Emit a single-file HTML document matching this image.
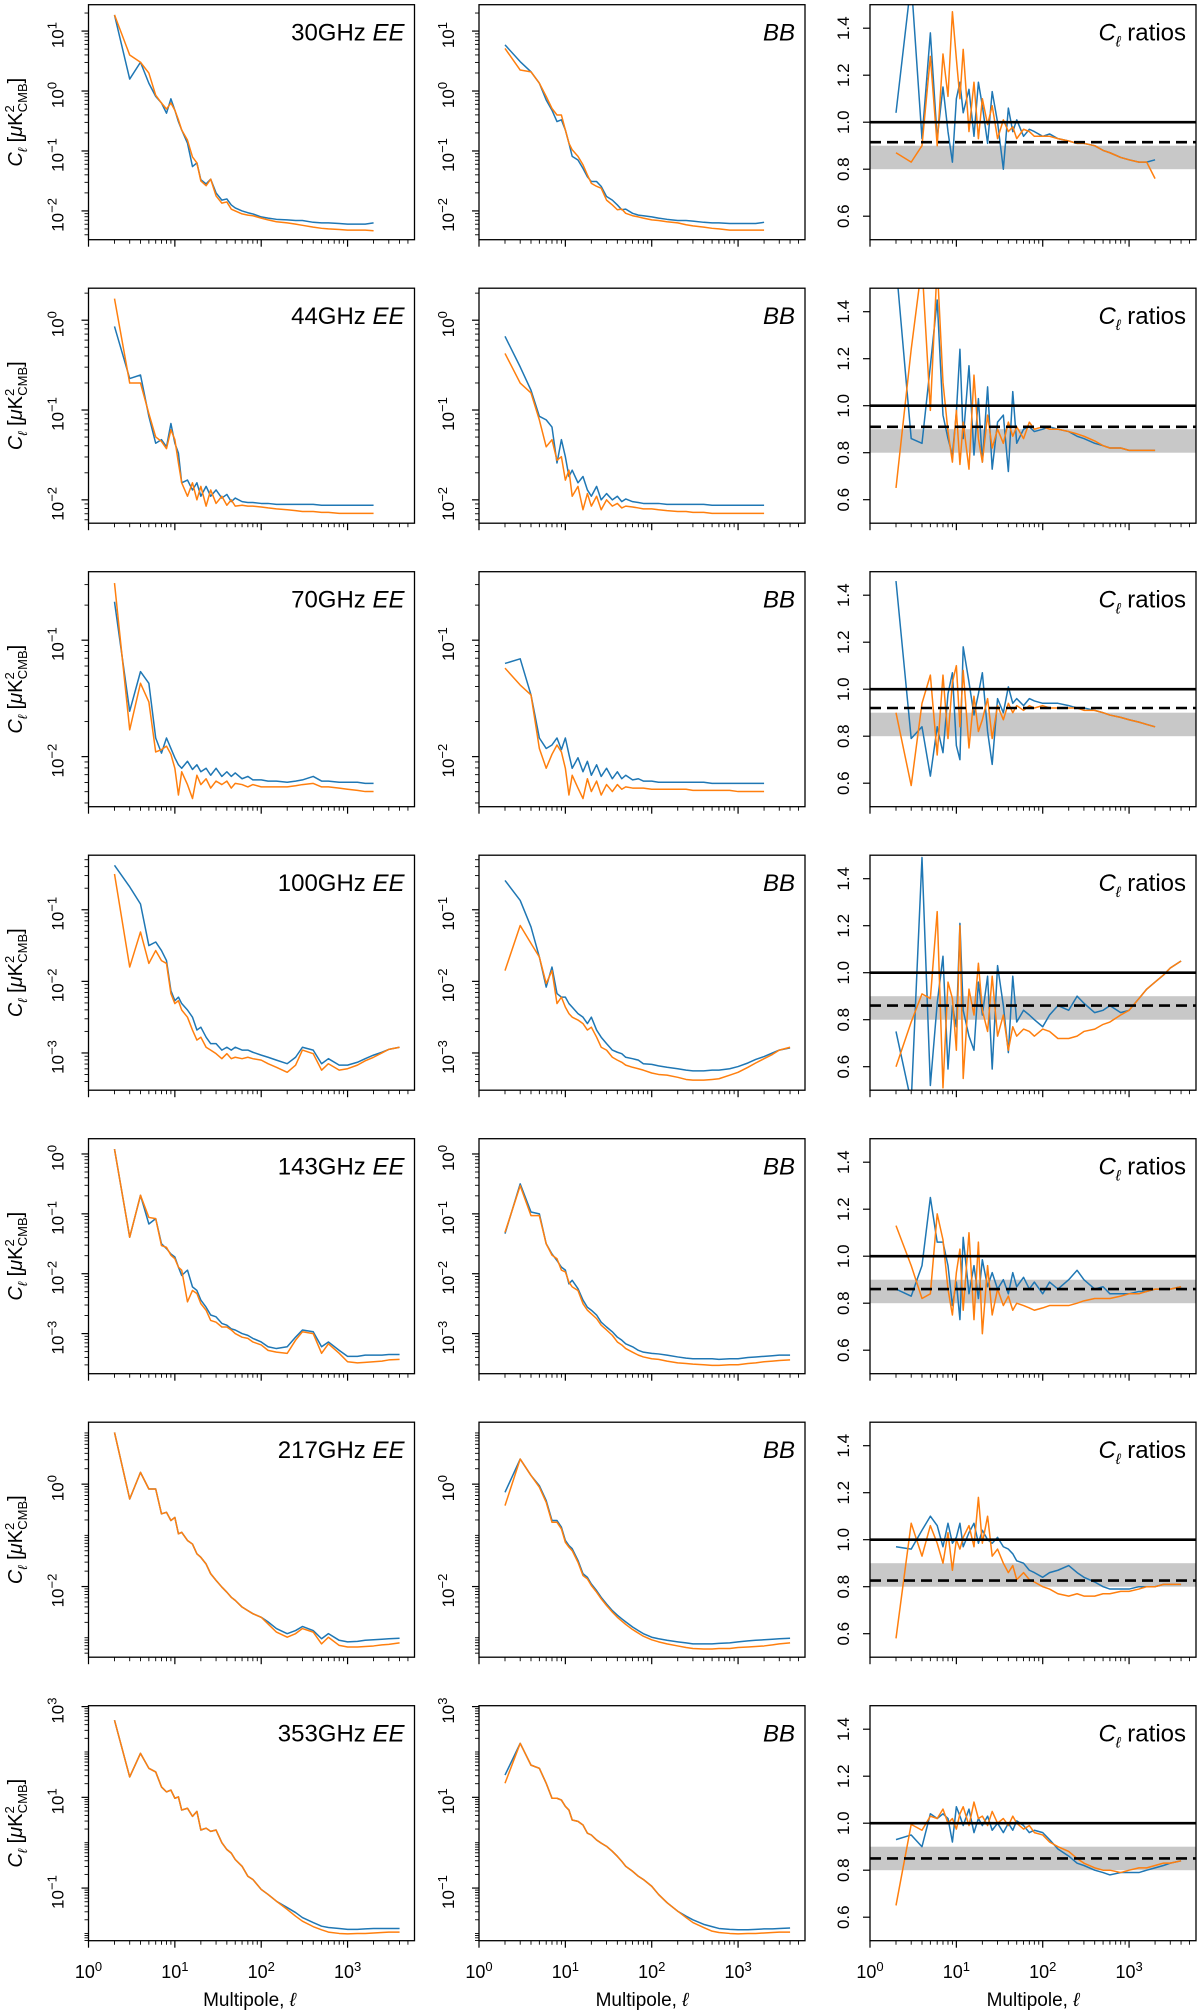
<!DOCTYPE html>
<html><head><meta charset="utf-8"><title>Planck Cl spectra</title>
<style>
html,body{margin:0;padding:0;background:#fff;}
svg{display:block;font-family:"Liberation Sans",sans-serif;}
</style></head>
<body>
<svg id="fig" xmlns="http://www.w3.org/2000/svg" width="1200" height="2015" viewBox="0 0 1200 2015"></svg>
<script>
const ell = [2,3,4,5,6,7,8,9,10,11,12,14,16,18,20,23,26,30,35,40,45,50,60,70,80,100,120,150,200,250,300,400,500,600,800,1000,1300,1600,2000,2500,3000,4000];
const freqLabels = ["30GHz","44GHz","70GHz","100GHz","143GHz","217GHz","353GHz"];
const meanRatio = [0.915,0.91,0.92,0.86,0.86,0.826,0.85];
const xTickLabels = ["0","1","2","3"];
const ratioTicks = [0.6,0.8,1.0,1.2,1.4];

// log10 C_ell values
const ee30Blue=[1.27,0.20,0.48,0.13,-0.09,-0.2,-0.37,-0.13,-0.32,-0.51,-0.65,-0.87,-1.26,-1.2,-1.48,-1.55,-1.47,-1.7,-1.82,-1.8,-1.9,-1.95,-2.0,-2.03,-2.05,-2.1,-2.12,-2.14,-2.15,-2.16,-2.16,-2.19,-2.2,-2.2,-2.21,-2.22,-2.22,-2.22,-2.2];
const ee30Orange=[1.27,0.6,0.48,0.3,-0.07,-0.2,-0.3,-0.2,-0.32,-0.48,-0.65,-0.82,-1.1,-1.2,-1.5,-1.58,-1.47,-1.75,-1.87,-1.85,-1.97,-2.0,-2.05,-2.07,-2.08,-2.12,-2.15,-2.18,-2.2,-2.22,-2.24,-2.27,-2.29,-2.3,-2.31,-2.32,-2.32,-2.32,-2.33];
const bb30Blue=[0.77,0.49,0.32,0.13,-0.15,-0.32,-0.51,-0.48,-0.65,-0.87,-1.09,-1.15,-1.29,-1.43,-1.51,-1.51,-1.59,-1.76,-1.82,-1.9,-1.98,-1.97,-2.04,-2.07,-2.08,-2.1,-2.12,-2.14,-2.16,-2.16,-2.17,-2.19,-2.2,-2.2,-2.21,-2.21,-2.21,-2.21,-2.19];
const bb30Orange=[0.71,0.35,0.32,0.13,-0.09,-0.29,-0.4,-0.4,-0.65,-0.87,-0.98,-1.09,-1.23,-1.4,-1.54,-1.59,-1.62,-1.82,-1.9,-1.98,-1.97,-2.04,-2.08,-2.1,-2.12,-2.15,-2.16,-2.18,-2.2,-2.23,-2.25,-2.27,-2.29,-2.3,-2.32,-2.32,-2.32,-2.32,-2.32];
const ratio30Blue=[1.04,1.6,0.93,1.38,0.93,1.15,0.96,0.83,1.1,1.17,1.04,1.14,0.94,1.17,1.07,0.91,1.13,1.0,0.8,1.06,0.96,1.01,0.94,0.97,0.96,0.94,0.95,0.93,0.92,0.91,0.91,0.9,0.88,0.87,0.85,0.84,0.83,0.83,0.84];
const ratio30Orange=[0.87,0.83,0.9,1.28,0.9,1.29,1.11,1.47,1.27,1.1,1.31,0.96,1.17,0.93,1.1,0.99,1.07,0.93,1.01,0.96,0.98,0.93,0.97,0.96,0.94,0.94,0.94,0.93,0.92,0.91,0.91,0.9,0.88,0.87,0.85,0.84,0.83,0.83,0.76];

const ee44Blue=[-0.07,-0.65,-0.61,-1.07,-1.37,-1.33,-1.41,-1.15,-1.37,-1.48,-1.81,-1.78,-1.89,-1.81,-1.96,-1.85,-1.96,-1.89,-1.98,-1.94,-2.02,-1.98,-2.02,-2.03,-2.03,-2.04,-2.04,-2.05,-2.05,-2.05,-2.05,-2.05,-2.06,-2.06,-2.06,-2.06,-2.06,-2.06,-2.06];
const ee44Orange=[0.24,-0.7,-0.7,-1.04,-1.3,-1.35,-1.43,-1.22,-1.33,-1.59,-1.81,-1.96,-1.81,-2.0,-1.85,-2.07,-1.89,-2.04,-1.96,-2.06,-2.0,-2.07,-2.06,-2.07,-2.07,-2.08,-2.09,-2.1,-2.11,-2.12,-2.13,-2.13,-2.14,-2.14,-2.15,-2.15,-2.15,-2.15,-2.15];
const bb44Blue=[-0.18,-0.52,-0.78,-1.07,-1.11,-1.19,-1.59,-1.33,-1.52,-1.74,-1.67,-1.81,-1.74,-1.89,-1.96,-1.85,-2.0,-1.93,-2.0,-1.96,-2.02,-1.99,-2.02,-2.03,-2.04,-2.04,-2.04,-2.05,-2.05,-2.05,-2.05,-2.05,-2.06,-2.06,-2.06,-2.06,-2.06,-2.06,-2.06];
const bb44Orange=[-0.37,-0.7,-0.81,-1.11,-1.41,-1.33,-1.56,-1.52,-1.78,-1.67,-1.96,-1.85,-2.11,-1.93,-2.07,-1.96,-2.11,-2.0,-2.07,-2.04,-2.09,-2.07,-2.08,-2.09,-2.1,-2.1,-2.11,-2.12,-2.13,-2.13,-2.14,-2.14,-2.15,-2.15,-2.15,-2.15,-2.15,-2.15,-2.15];
const ratio44Blue=[1.6,0.86,0.84,1.17,1.45,0.96,0.86,0.79,0.97,1.24,0.86,1.17,0.79,1.03,0.76,1.08,0.73,0.93,0.96,0.72,1.06,0.84,0.9,0.91,0.89,0.9,0.91,0.9,0.89,0.87,0.86,0.84,0.83,0.82,0.82,0.81,0.81,0.81,0.81];
const ratio44Orange=[0.65,1.24,1.6,0.98,1.6,1.1,0.89,0.76,0.98,0.75,0.93,0.73,1.13,0.86,0.76,0.96,0.82,0.9,0.84,0.93,0.87,0.91,0.86,0.93,0.9,0.91,0.9,0.9,0.89,0.88,0.87,0.85,0.83,0.82,0.82,0.81,0.81,0.81,0.81];

const ee70Blue=[-0.67,-1.61,-1.27,-1.37,-1.84,-1.97,-1.84,-1.93,-2.01,-2.07,-2.1,-2.04,-2.11,-2.07,-2.13,-2.1,-2.16,-2.1,-2.17,-2.13,-2.17,-2.14,-2.19,-2.17,-2.2,-2.2,-2.21,-2.21,-2.22,-2.21,-2.2,-2.17,-2.21,-2.21,-2.22,-2.22,-2.22,-2.23,-2.23];
const ee70Orange=[-0.51,-1.77,-1.37,-1.53,-1.96,-1.94,-1.91,-1.98,-2.1,-2.33,-2.13,-2.24,-2.36,-2.16,-2.24,-2.19,-2.27,-2.21,-2.24,-2.21,-2.27,-2.23,-2.24,-2.26,-2.24,-2.26,-2.26,-2.26,-2.26,-2.25,-2.24,-2.23,-2.26,-2.26,-2.27,-2.28,-2.29,-2.3,-2.3];
const bb70Blue=[-1.2,-1.16,-1.47,-1.84,-1.93,-1.9,-1.84,-1.94,-1.84,-1.98,-2.1,-2.01,-2.13,-2.04,-2.16,-2.07,-2.17,-2.1,-2.19,-2.13,-2.19,-2.16,-2.2,-2.19,-2.21,-2.21,-2.22,-2.22,-2.22,-2.22,-2.22,-2.22,-2.23,-2.23,-2.23,-2.23,-2.23,-2.23,-2.23];
const bb70Orange=[-1.24,-1.385,-1.47,-1.93,-2.1,-1.98,-1.9,-1.96,-2.1,-2.33,-2.16,-2.27,-2.36,-2.19,-2.3,-2.21,-2.33,-2.24,-2.3,-2.24,-2.28,-2.26,-2.27,-2.27,-2.27,-2.28,-2.28,-2.28,-2.28,-2.28,-2.29,-2.29,-2.29,-2.29,-2.29,-2.3,-2.3,-2.3,-2.3];
const ratio70Blue=[1.46,0.79,0.84,0.63,0.84,0.73,0.98,1.07,0.76,0.7,1.18,1.03,0.89,0.98,1.07,0.82,0.68,0.96,0.9,1.01,0.94,0.96,0.93,0.96,0.95,0.94,0.94,0.94,0.93,0.92,0.92,0.91,0.9,0.89,0.88,0.87,0.86,0.85,0.84];
const ratio70Orange=[0.9,0.59,0.94,1.06,0.72,1.06,0.79,1.03,1.1,0.84,1.08,0.75,0.97,0.82,0.87,0.96,0.79,0.93,0.87,0.94,0.9,0.93,0.91,0.93,0.92,0.93,0.92,0.92,0.92,0.92,0.91,0.91,0.9,0.89,0.88,0.87,0.86,0.85,0.84];

const ee100Blue=[-0.38,-0.68,-0.92,-1.5,-1.45,-1.57,-1.71,-2.13,-2.27,-2.22,-2.31,-2.4,-2.5,-2.68,-2.64,-2.78,-2.87,-2.87,-2.96,-2.92,-2.96,-2.92,-2.96,-2.96,-2.99,-3.03,-3.06,-3.1,-3.15,-3.06,-2.92,-2.96,-3.15,-3.08,-3.17,-3.17,-3.13,-3.08,-3.03,-2.99,-2.95,-2.92];
const ee100Orange=[-0.5,-1.8,-1.31,-1.75,-1.57,-1.71,-1.75,-2.17,-2.31,-2.27,-2.4,-2.5,-2.68,-2.82,-2.78,-2.92,-2.96,-3.01,-3.08,-3.01,-3.08,-3.06,-3.08,-3.06,-3.08,-3.1,-3.15,-3.2,-3.27,-3.17,-2.96,-3.01,-3.24,-3.15,-3.24,-3.22,-3.17,-3.11,-3.06,-3.0,-2.95,-2.92];
const bb100Blue=[-0.59,-0.87,-1.24,-1.66,-2.08,-1.8,-2.17,-2.22,-2.22,-2.31,-2.36,-2.45,-2.5,-2.59,-2.5,-2.68,-2.78,-2.87,-2.96,-2.99,-3.01,-3.06,-3.08,-3.1,-3.15,-3.16,-3.18,-3.2,-3.22,-3.24,-3.25,-3.25,-3.24,-3.24,-3.22,-3.19,-3.14,-3.09,-3.05,-3.0,-2.96,-2.93];
const bb100Orange=[-1.85,-1.22,-1.47,-1.66,-2.03,-1.85,-2.31,-2.22,-2.36,-2.45,-2.5,-2.54,-2.59,-2.68,-2.64,-2.78,-2.92,-2.96,-3.06,-3.1,-3.13,-3.17,-3.2,-3.22,-3.24,-3.28,-3.3,-3.31,-3.34,-3.37,-3.38,-3.38,-3.37,-3.36,-3.31,-3.27,-3.2,-3.14,-3.08,-3.02,-2.96,-2.92];
const ratio100Blue=[0.75,0.45,1.49,0.52,0.87,1.07,0.59,0.86,0.77,1.21,0.84,0.73,0.67,0.96,0.82,0.985,0.59,1.03,0.86,0.66,0.985,0.79,0.84,0.82,0.8,0.77,0.82,0.86,0.84,0.9,0.87,0.83,0.84,0.86,0.83,0.84,0.89,0.93,0.96,0.99,1.02,1.05];
const ratio100Orange=[0.6,0.79,0.91,0.89,1.26,0.51,0.96,0.89,0.67,1.2,0.55,0.93,0.82,1.04,0.84,0.75,0.985,0.73,0.82,0.67,0.77,0.73,0.76,0.75,0.73,0.76,0.75,0.72,0.72,0.73,0.75,0.76,0.78,0.79,0.82,0.84,0.89,0.93,0.96,0.99,1.02,1.05];

const ee143Blue=[0.08,-1.39,-0.69,-1.17,-1.08,-1.5,-1.58,-1.67,-1.72,-1.89,-2.03,-1.94,-2.22,-2.28,-2.44,-2.56,-2.69,-2.72,-2.83,-2.86,-2.92,-2.94,-3.0,-3.03,-3.08,-3.14,-3.22,-3.25,-3.22,-3.06,-2.94,-2.97,-3.22,-3.14,-3.28,-3.38,-3.38,-3.36,-3.36,-3.36,-3.35,-3.35];
const ee143Orange=[0.08,-1.39,-0.69,-1.06,-1.08,-1.53,-1.56,-1.69,-1.75,-1.89,-1.94,-2.47,-2.28,-2.33,-2.5,-2.61,-2.78,-2.81,-2.89,-2.89,-2.94,-3.0,-3.06,-3.08,-3.14,-3.19,-3.28,-3.31,-3.33,-3.11,-2.97,-3.0,-3.33,-3.17,-3.33,-3.47,-3.49,-3.48,-3.47,-3.46,-3.44,-3.43];
const bb143Blue=[-1.33,-0.5,-0.97,-1.0,-1.5,-1.67,-1.78,-1.89,-1.94,-2.17,-2.11,-2.25,-2.44,-2.56,-2.61,-2.69,-2.81,-2.89,-2.97,-3.06,-3.11,-3.17,-3.22,-3.28,-3.31,-3.33,-3.34,-3.36,-3.39,-3.41,-3.42,-3.42,-3.42,-3.43,-3.42,-3.42,-3.4,-3.39,-3.38,-3.37,-3.36,-3.36];
const bb143Orange=[-1.31,-0.53,-1.03,-1.03,-1.5,-1.69,-1.75,-1.94,-1.97,-2.14,-2.22,-2.28,-2.5,-2.61,-2.67,-2.75,-2.86,-2.94,-3.03,-3.14,-3.19,-3.25,-3.31,-3.36,-3.39,-3.42,-3.43,-3.46,-3.49,-3.5,-3.51,-3.52,-3.53,-3.53,-3.52,-3.52,-3.5,-3.49,-3.47,-3.46,-3.45,-3.44];
const ratio143Blue=[0.86,0.83,0.96,1.25,1.06,1.06,0.96,0.79,0.89,0.73,1.08,0.84,0.96,0.82,0.985,0.87,0.93,0.86,0.9,0.84,0.93,0.87,0.91,0.86,0.89,0.84,0.89,0.86,0.9,0.94,0.9,0.86,0.87,0.84,0.84,0.84,0.85,0.85,0.86,0.86,0.86,0.87];
const ratio143Orange=[1.13,0.96,0.82,0.84,1.18,1.07,0.86,0.75,0.93,1.03,0.77,1.1,0.73,1.06,0.67,0.96,0.75,0.86,0.79,0.83,0.77,0.8,0.79,0.78,0.77,0.78,0.79,0.79,0.79,0.8,0.81,0.82,0.82,0.82,0.83,0.84,0.84,0.85,0.86,0.86,0.86,0.87];

const ee217Blue=[1.01,-0.29,0.23,-0.095,-0.095,-0.58,-0.55,-0.71,-0.65,-0.97,-0.94,-1.1,-1.17,-1.36,-1.43,-1.56,-1.75,-1.88,-2.01,-2.11,-2.21,-2.27,-2.4,-2.47,-2.53,-2.6,-2.69,-2.82,-2.92,-2.86,-2.78,-2.86,-3.02,-2.92,-3.05,-3.08,-3.07,-3.05,-3.04,-3.03,-3.02,-3.01];
const ee217Orange=[1.01,-0.29,0.23,-0.095,-0.095,-0.58,-0.55,-0.71,-0.65,-0.97,-0.94,-1.1,-1.17,-1.36,-1.43,-1.56,-1.75,-1.88,-2.01,-2.11,-2.21,-2.27,-2.4,-2.47,-2.53,-2.6,-2.73,-2.89,-2.99,-2.92,-2.82,-2.89,-3.12,-2.99,-3.15,-3.18,-3.18,-3.17,-3.16,-3.14,-3.13,-3.1];
const bb217Blue=[-0.16,0.49,0.17,-0.03,-0.32,-0.71,-0.71,-0.84,-1.1,-1.2,-1.26,-1.49,-1.75,-1.82,-1.95,-2.08,-2.21,-2.34,-2.47,-2.56,-2.63,-2.69,-2.79,-2.86,-2.92,-2.99,-3.02,-3.05,-3.08,-3.1,-3.12,-3.12,-3.12,-3.11,-3.1,-3.08,-3.06,-3.05,-3.04,-3.03,-3.02,-3.01];
const bb217Orange=[-0.42,0.49,0.17,-0.06,-0.355,-0.745,-0.745,-0.875,-1.135,-1.23,-1.3,-1.525,-1.785,-1.85,-1.98,-2.11,-2.24,-2.37,-2.5,-2.6,-2.675,-2.74,-2.84,-2.91,-2.97,-3.04,-3.08,-3.12,-3.16,-3.19,-3.21,-3.22,-3.22,-3.21,-3.21,-3.19,-3.18,-3.17,-3.16,-3.14,-3.12,-3.1];
const ratio217Blue=[0.97,0.96,1.04,1.1,1.06,0.97,1.07,0.985,1.01,1.07,0.97,1.03,1.07,0.985,1.04,1.0,0.985,1.01,0.97,0.96,0.94,0.91,0.9,0.87,0.86,0.84,0.86,0.87,0.89,0.86,0.84,0.82,0.8,0.79,0.79,0.79,0.8,0.8,0.8,0.81,0.81,0.81];
const ratio217Orange=[0.58,1.07,0.93,1.06,0.985,0.9,1.03,0.87,1.0,0.96,1.01,1.06,0.97,1.18,0.985,1.1,0.93,0.96,0.9,0.86,0.89,0.83,0.86,0.83,0.82,0.8,0.79,0.77,0.76,0.77,0.76,0.76,0.77,0.77,0.78,0.78,0.79,0.8,0.8,0.81,0.81,0.81];

const ee353Blue=[2.70,1.45,1.97,1.64,1.56,1.23,1.12,1.16,0.98,1.01,0.72,0.76,0.58,0.69,0.28,0.32,0.25,0.28,0.0,-0.15,-0.23,-0.37,-0.52,-0.74,-0.81,-1.03,-1.14,-1.29,-1.43,-1.54,-1.65,-1.76,-1.84,-1.87,-1.89,-1.91,-1.91,-1.90,-1.89,-1.89,-1.89,-1.89];
const ee353Orange=[2.70,1.45,1.97,1.64,1.56,1.23,1.12,1.16,0.98,1.01,0.72,0.76,0.58,0.69,0.28,0.32,0.25,0.28,0.0,-0.15,-0.23,-0.37,-0.52,-0.74,-0.81,-1.03,-1.14,-1.29,-1.47,-1.62,-1.73,-1.85,-1.92,-1.97,-2.0,-2.01,-2.0,-2.0,-1.99,-1.98,-1.97,-1.97];
const bb353Blue=[1.49,2.19,1.71,1.64,1.31,0.98,0.98,0.94,0.8,0.72,0.5,0.47,0.39,0.21,0.17,0.06,-0.01,-0.08,-0.19,-0.3,-0.41,-0.52,-0.63,-0.74,-0.81,-0.96,-1.14,-1.32,-1.51,-1.62,-1.7,-1.8,-1.85,-1.89,-1.91,-1.92,-1.92,-1.91,-1.9,-1.9,-1.89,-1.88];
const bb353Orange=[1.31,2.19,1.71,1.64,1.31,0.98,0.98,0.94,0.8,0.72,0.5,0.47,0.39,0.21,0.17,0.06,-0.01,-0.08,-0.19,-0.3,-0.41,-0.52,-0.63,-0.74,-0.81,-0.96,-1.14,-1.32,-1.51,-1.65,-1.76,-1.87,-1.95,-1.98,-2.0,-2.01,-2.0,-2.0,-1.99,-1.98,-1.97,-1.97];
const ratio353Blue=[0.93,0.95,0.9,1.04,1.02,1.04,1.02,0.92,1.07,1.03,0.99,1.06,0.96,1.02,0.99,1.03,0.97,1.0,0.96,1.0,0.97,1.01,0.99,0.96,0.97,0.96,0.93,0.89,0.86,0.83,0.82,0.8,0.79,0.78,0.79,0.79,0.79,0.8,0.81,0.82,0.83,0.84];
const ratio353Orange=[0.65,0.995,0.97,1.03,1.02,1.06,1.0,1.02,0.975,1.04,1.07,0.99,1.09,1.02,1.03,0.99,1.05,1.0,1.02,0.99,1.03,1.0,0.975,0.99,0.96,0.95,0.92,0.9,0.88,0.85,0.83,0.81,0.8,0.8,0.79,0.8,0.81,0.81,0.82,0.83,0.83,0.84];

const eeSeries=[[ee30Blue,ee30Orange],[ee44Blue,ee44Orange],[ee70Blue,ee70Orange],[ee100Blue,ee100Orange],[ee143Blue,ee143Orange],[ee217Blue,ee217Orange],[ee353Blue,ee353Orange]];
const bbSeries=[[bb30Blue,bb30Orange],[bb44Blue,bb44Orange],[bb70Blue,bb70Orange],[bb100Blue,bb100Orange],[bb143Blue,bb143Orange],[bb217Blue,bb217Orange],[bb353Blue,bb353Orange]];
const ratioSeries=[[ratio30Blue,ratio30Orange],[ratio44Blue,ratio44Orange],[ratio70Blue,ratio70Orange],[ratio100Blue,ratio100Orange],[ratio143Blue,ratio143Orange],[ratio217Blue,ratio217Orange],[ratio353Blue,ratio353Orange]];

// axis settings (log10 limits) per row
const yLo=[-2.48,-2.26,-2.43,-3.52,-3.67,-3.38,-2.16];
const yHi=[1.44,0.356,-0.412,-0.238,0.255,1.21,3.02];
const yLabelled=[[-2,-1,0,1],[-2,-1,0],[-2,-1],[-3,-2,-1],[-3,-2,-1,0],[-2,0],[-1,1,3]];

const NS="http://www.w3.org/2000/svg";
const svg=document.getElementById('fig');
const COLX=[88.5,479,870], PW=326, PH=235, TOP0=4.7, RPITCH=283.5, XMAX=3.775;
const BLUE="#1f77b4", ORANGE="#ff7f0e";
function el(tag,attrs,parent){const e=document.createElementNS(NS,tag);for(const k in attrs)e.setAttribute(k,attrs[k]);(parent||svg).appendChild(e);return e;}
function xScale(x0,l){return x0+PW*Math.log10(l)/XMAX;}

const defs=el('defs',{});
for(let r=0;r<7;r++){
  const top=TOP0+r*RPITCH, bottom=top+PH;
  const freq=freqLabels[r].replace('GHz','');
  for(let c=0;c<3;c++){
    const x0=COLX[c];
    const cp=el('clipPath',{id:'cp'+r+'_'+c},defs);
    el('rect',{x:x0,y:top,width:PW,height:PH},cp);
    const g=el('g',{});
    
    
    const isRatio=c===2;
    const lo=isRatio?0.5:yLo[r], hi=isRatio?1.5:yHi[r];
    const yS=v=>bottom-(v-lo)/(hi-lo)*PH;
    for(let d=0;d<=3;d++){
      for(let m=1;m<10;m++){
        const lv=d+Math.log10(m); if(lv>XMAX)break;
        const x=x0+PW*lv/XMAX;
        const t=el('line',{x1:x,x2:x,y1:bottom,y2:bottom+(m===1?7:4),stroke:'#000','stroke-width':m===1?1.2:0.9},g);
        
        
      }
      if(r===6){
        const tl=el('text',{x:x0+PW*d/XMAX,y:1978,'text-anchor':'middle','font-size':18},g);
        
        
        tl.appendChild(document.createTextNode('10'));
        const sp=el('tspan',{dy:-7,'font-size':13},tl); sp.textContent=xTickLabels[d];
      }
    }
    if(r===6){
      const xl=el('text',{x:x0+PW/2+(c===0?-2:0),y:2006,'text-anchor':'middle','font-size':19},g);
      
      
      xl.appendChild(document.createTextNode('Multipole, '));
      const li=el('tspan',{'font-style':'italic'},xl); li.textContent='ℓ';
    }
    if(isRatio){
      for(const v of ratioTicks){
        const y=yS(v);
        const t=el('line',{x1:x0-7,x2:x0,y1:y,y2:y,stroke:'#000','stroke-width':1.2},g);
        
        
        const tl=el('text',{x:x0-21,y:y,'text-anchor':'middle','font-size':17,transform:`rotate(-90 ${x0-21} ${y})`},g);
        
        
        tl.textContent=v.toFixed(1);
      }
    } else {
      for(let d=Math.floor(lo);d<=Math.ceil(hi);d++){
        for(let m=1;m<10;m++){
          const lv=d+Math.log10(m); if(lv<lo||lv>hi)continue;
          const y=yS(lv);
          const major=(m===1&&yLabelled[r].includes(d));
          const t=el('line',{x1:x0-(major?7:4),x2:x0,y1:y,y2:y,stroke:'#000','stroke-width':major?1.2:0.9},g);
          
          
          if(major){
            const tx=x0-25;
            const tl=el('text',{x:tx,y:y+4,'text-anchor':'middle','font-size':17,transform:`rotate(-90 ${tx} ${y+4})`},g);
            
            
            tl.appendChild(document.createTextNode('10'));
            const sp=el('tspan',{dy:-7,'font-size':13},tl); sp.textContent=(d<0?'−':'')+Math.abs(d);
          }
        }
      }
    }
    const inner=el('g',{'clip-path':`url(#cp${r}_${c})`},g);
    if(isRatio){
      const band=el('rect',{x:x0,y:yS(0.9),width:PW,height:yS(0.8)-yS(0.9),fill:'#c8c8c8'},inner);
      
      
    }
    const series=c===0?eeSeries[r]:c===1?bbSeries[r]:ratioSeries[r];
    series.forEach((arr,si)=>{
      const pts=[];
      arr.forEach((v,i)=>{ if(v!==null&&v!==undefined) pts.push(xScale(x0,ell[i]).toFixed(2)+','+yS(v).toFixed(2)); });
      const pl=el('polyline',{points:pts.join(' '),fill:'none',stroke:si===0?BLUE:ORANGE,'stroke-width':1.5,'stroke-linejoin':'round'},inner);
      
      
    });
    if(isRatio){
      const one=el('line',{x1:x0,x2:x0+PW,y1:yS(1.0),y2:yS(1.0),stroke:'#000','stroke-width':2.6},inner);
      
      
      const dl=el('line',{x1:x0,x2:x0+PW,y1:yS(meanRatio[r]),y2:yS(meanRatio[r]),stroke:'#000','stroke-width':2.6,'stroke-dasharray':'11,6'},inner);
      
      
    }
    const fr=el('rect',{x:x0,y:top,width:PW,height:PH,fill:'none',stroke:'#000','stroke-width':1.3},g);
    
    
    const lab=el('text',{x:x0+PW-10,y:top+36,'text-anchor':'end','font-size':24},g);
    
    
    if(c===0){
      lab.appendChild(document.createTextNode(freqLabels[r]+' '));
      const it=el('tspan',{'font-style':'italic'},lab); it.textContent='EE';
    } else if(c===1){
      const it=el('tspan',{'font-style':'italic'},lab); it.textContent='BB';
    } else {
      const it=el('tspan',{'font-style':'italic'},lab); it.textContent='C';
      const sb=el('tspan',{'font-style':'italic','font-size':15,dy:6},lab); sb.textContent='ℓ';
      const rt=el('tspan',{dy:-6},lab); rt.textContent=' ratios';
    }
    if(c===0){
      const cy=top+PH/2, cx=22;
      const yl=el('text',{x:cx,y:cy,'text-anchor':'middle','font-size':20,transform:`rotate(-90 ${cx} ${cy})`},g);
      
      
      const a=el('tspan',{'font-style':'italic'},yl); a.textContent='C';
      const b=el('tspan',{'font-style':'italic','font-size':13,dy:5},yl); b.textContent='ℓ';
      const cc=el('tspan',{dy:-5},yl); cc.textContent=' [';
      const mu=el('tspan',{'font-style':'italic'},yl); mu.textContent='μ';
      const k=el('tspan',{},yl); k.textContent='K';
      const s2=el('tspan',{'font-size':13,dy:-8},yl); s2.textContent='2';
      const cmb=el('tspan',{'font-size':13,dy:13,dx:-7},yl); cmb.textContent='CMB';
      const br=el('tspan',{dy:-5},yl); br.textContent=']';
    }
  }
}
</script>
</body></html>
